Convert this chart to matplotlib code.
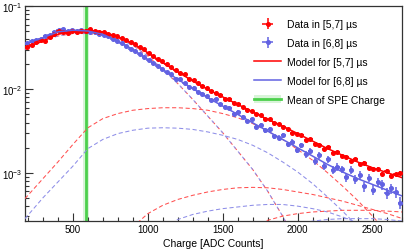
import matplotlib
matplotlib.use("Agg")
import matplotlib.pyplot as plt
from matplotlib.lines import Line2D
from matplotlib.patches import Patch
from matplotlib.ticker import MultipleLocator, LogLocator, NullFormatter
import numpy as np

plt.rcParams['font.family'] = ['Liberation Sans', 'DejaVu Sans']

# histogram binning (ADC counts)
bin_edges = np.arange(180, 2701, 30)
bin_centers = 0.5 * (bin_edges[:-1] + bin_edges[1:])

# raw counts per bin and normalisation of each histogram
norm_57 = 4.0e5
counts_57 = [12944, 13552, 14860, 15561, 15207, 17063, 18709, 20047, 19591, 19144,
             20047, 19591, 20047, 20047, 20992, 20047, 19591, 19591, 18709, 17865,
             17458, 16675, 15561, 14860, 13870, 12944, 12081, 11017, 10048, 9164,
             8751, 7981, 7448, 6793, 6340, 6054, 5396, 5153, 4809, 4386,
             4188, 3820, 3648, 3404, 3105, 3034, 2767, 2643, 2466, 2249,
             2198, 2005, 1959, 1787, 1746, 1592, 1556, 1419, 1355, 1208,
             1180, 1127, 982, 1005, 875, 855, 762, 817, 695, 711,
             634, 620, 552, 578, 504, 527, 459, 438, 449, 391,
             419, 365, 382, 400]

norm_68 = 8.0e4
counts_68 = [2905, 3042, 3112, 3259, 3492, 3573, 3918, 4103, 4198, 4009,
             4103, 4009, 4103, 4009, 3918, 3918, 3741, 3573, 3492, 3259,
             3042, 2905, 2649, 2472, 2307, 2104, 1964, 1791, 1671, 1524,
             1423, 1298, 1239, 1079, 1055, 962, 857, 838, 747, 713,
             665, 593, 607, 529, 493, 482, 410, 430, 374, 334,
             349, 284, 297, 259, 265, 220, 210, 225, 175, 188,
             152, 171, 133, 146, 110, 130, 96, 116, 86, 94,
             88, 71, 86, 67, 76, 55, 70, 50, 62, 58,
             46, 52, 47, 35]

# model curves (total fits)
model_x = [180, 300, 400, 500, 600, 700, 800, 900, 1000, 1100, 1200, 1300, 1400,
           1500, 1600, 1700, 1800, 1900, 2000, 2100, 2200, 2300, 2400, 2500, 2600, 2700]
model_57 = [3.162e-2, 3.802e-2, 4.571e-2, 5.012e-2, 5.129e-2, 4.898e-2, 4.266e-2,
            3.548e-2, 2.754e-2, 2.089e-2, 1.622e-2, 1.259e-2, 1.000e-2, 8.128e-3,
            6.607e-3, 5.370e-3, 4.365e-3, 3.631e-3, 2.951e-3, 2.399e-3, 1.950e-3,
            1.622e-3, 1.349e-3, 1.148e-3, 1.000e-3, 8.710e-4]
model_68 = [3.467e-2, 4.169e-2, 4.898e-2, 5.129e-2, 5.012e-2, 4.571e-2, 3.802e-2,
            3.020e-2, 2.291e-2, 1.738e-2, 1.318e-2, 1.023e-2, 7.943e-3, 6.310e-3,
            5.012e-3, 3.981e-3, 3.162e-3, 2.512e-3, 1.995e-3, 1.585e-3, 1.259e-3,
            1.023e-3, 8.511e-4, 7.244e-4, 6.166e-4, 5.248e-4]

# model components (n photo-electrons)
pe1_x = model_x[:19]
pe1 = [3.020e-2, 3.802e-2, 4.365e-2, 4.677e-2, 4.677e-2, 4.467e-2, 3.981e-2,
       3.388e-2, 2.512e-2, 1.738e-2, 1.175e-2, 7.586e-3, 4.786e-3, 3.020e-3,
       1.820e-3, 1.096e-3, 6.026e-4, 3.020e-4, 1.413e-4]

pe2_57 = [4.898e-4, 8.511e-4, 1.349e-3, 2.188e-3, 3.467e-3, 4.467e-3, 5.129e-3,
          5.623e-3, 5.888e-3, 6.026e-3, 6.026e-3, 5.888e-3, 5.623e-3, 5.129e-3,
          4.571e-3, 3.890e-3, 3.162e-3, 2.512e-3, 1.905e-3, 1.413e-3, 1.000e-3,
          6.918e-4, 4.677e-4, 3.020e-4, 1.905e-4, 1.148e-4]
pe2_68_x = model_x[:24]
pe2_68 = [2.818e-4, 5.012e-4, 7.762e-4, 1.202e-3, 1.950e-3, 2.512e-3, 2.951e-3,
          3.236e-3, 3.428e-3, 3.467e-3, 3.428e-3, 3.311e-3, 3.090e-3, 2.818e-3,
          2.512e-3, 2.138e-3, 1.738e-3, 1.349e-3, 1.023e-3, 7.413e-4, 5.129e-4,
          3.467e-4, 2.291e-4, 1.445e-4]

pe3_57_x = model_x[6:]
pe3_57 = [1.479e-4, 2.239e-4, 3.236e-4, 4.074e-4, 4.786e-4, 5.370e-4, 5.888e-4,
          6.310e-4, 6.607e-4, 6.683e-4, 6.607e-4, 6.310e-4, 5.888e-4, 5.495e-4,
          5.012e-4, 4.571e-4, 4.074e-4, 3.631e-4, 3.236e-4, 2.818e-4]
pe3_68_x = model_x[8:]
pe3_68 = [1.259e-4, 2.089e-4, 2.754e-4, 3.162e-4, 3.467e-4, 3.715e-4, 3.890e-4,
          4.074e-4, 4.169e-4, 4.169e-4, 3.981e-4, 3.715e-4, 3.388e-4, 2.951e-4,
          2.512e-4, 2.089e-4, 1.698e-4, 1.349e-4]

pe4_57_x = model_x[14:]
pe4_57 = [1.660e-4, 2.239e-4, 2.692e-4, 3.020e-4, 3.236e-4, 3.388e-4, 3.467e-4,
          3.548e-4, 3.548e-4, 3.548e-4, 3.467e-4, 3.388e-4]
pe4_68_x = model_x[16:]
pe4_68 = [1.514e-4, 1.995e-4, 2.399e-4, 2.630e-4, 2.754e-4, 2.818e-4, 2.818e-4,
          2.818e-4, 2.754e-4, 2.630e-4]

spe_mean = 590
spe_err = 20

red = '#ff0000'
blue = '#6262e2'
red_dash = '#ff5050'
blue_dash = '#8e8ee8'
green = '#4cd04c'

fig = plt.figure(figsize=(4.15, 2.53), dpi=100)
ax = fig.add_axes([0.0602, 0.1225, 0.9096, 0.8498])

# SPE mean band and line
ax.axvspan(spe_mean - spe_err, spe_mean + spe_err, color='#d8f4d8', lw=0, zorder=1)
ax.axvline(spe_mean, color=green, lw=2, zorder=2)

dash = (0, (4, 2.5))
lw_d = 0.75
# single-PE term is shared by both fits: red and blue dashes interleave
ax.plot(pe1_x, pe1, color=red_dash, lw=lw_d, ls=(0, (3, 3.5)), zorder=3)
ax.plot(pe1_x, pe1, color=blue_dash, lw=lw_d, ls=(1.5, (3, 3.5)), zorder=3)
ax.plot(model_x, pe2_57, color=red_dash, lw=lw_d, ls=dash, zorder=3)
ax.plot(pe2_68_x, pe2_68, color=blue_dash, lw=lw_d, ls=dash, zorder=3)
ax.plot(pe3_57_x, pe3_57, color=red_dash, lw=lw_d, ls=dash, zorder=3)
ax.plot(pe3_68_x, pe3_68, color=blue_dash, lw=lw_d, ls=dash, zorder=3)
ax.plot(pe4_57_x, pe4_57, color=red_dash, lw=lw_d, ls=dash, zorder=3)
ax.plot(pe4_68_x, pe4_68, color=blue_dash, lw=lw_d, ls=dash, zorder=3)

c57 = np.array(counts_57)
c68 = np.array(counts_68)
d57 = ax.errorbar(bin_centers, c57 / norm_57, xerr=15, yerr=np.sqrt(c57) / norm_57,
                  fmt='o', ms=2.6, color=red, elinewidth=1.1, capsize=0, zorder=5)
d68 = ax.errorbar(bin_centers, c68 / norm_68, xerr=15, yerr=np.sqrt(c68) / norm_68,
                  fmt='o', ms=2.6, color=blue, elinewidth=1.1, capsize=0, zorder=4)

m57, = ax.plot(model_x, model_57, color=red, lw=1.1, zorder=6)
m68, = ax.plot(model_x, model_68, color=blue, lw=1.1, zorder=6)

ax.set_yscale('log')
ax.set_xlim(180, 2700)
ax.set_ylim(2.64e-4, 0.1)

ax.xaxis.set_major_locator(MultipleLocator(500))
ax.xaxis.set_minor_locator(MultipleLocator(100))
ax.yaxis.set_major_locator(LogLocator(base=10))
ax.yaxis.set_minor_locator(LogLocator(base=10, subs=np.arange(2, 10)))
ax.yaxis.set_minor_formatter(NullFormatter())
ax.tick_params(which='both', direction='in', top=False, right=False,
               labelsize=7, width=0.8, color='#333333')
ax.tick_params(which='major', length=6, pad=2)
ax.tick_params(which='minor', length=3)
for s in ax.spines.values():
    s.set_linewidth(0.9)
    s.set_color('#333333')

ax.set_xlabel('Charge [ADC Counts]', fontsize=7.5, labelpad=3)

spe_handle = (Patch(facecolor='#d8f4d8', edgecolor='none'),
              Line2D([], [], color=green, lw=2))
ax.legend([d57, d68, m57, m68, spe_handle],
          ['Data in [5,7] µs', 'Data in [6,8] µs', 'Model for [5,7] µs',
           'Model for [6,8] µs', 'Mean of SPE Charge'],
          loc='upper left', bbox_to_anchor=(0.582, 0.982), frameon=False,
          fontsize=7.5, handlelength=2.6, handletextpad=0.6, labelspacing=0.85)

fig.savefig('out.png', dpi=100)
